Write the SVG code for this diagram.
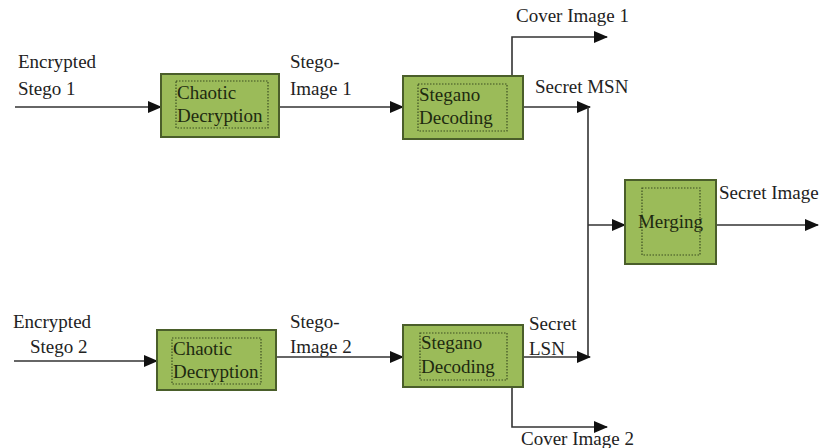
<svg xmlns="http://www.w3.org/2000/svg" width="822" height="448" viewBox="0 0 822 448">
<style>
.box{fill:#9bbb59;stroke:#4a5e2a;stroke-width:2}
.inner{fill:none;stroke:#3d4f22;stroke-width:1.2;stroke-dasharray:1.5 1.5}
.lbl{font-size:19px;fill:#222}
.blbl{font-size:19px;fill:#1e2a10}
.conn path{fill:none;stroke:#333;stroke-width:1.6}
</style>
<defs>
<marker id="arr" markerUnits="userSpaceOnUse" markerWidth="14" markerHeight="12" refX="13" refY="6" orient="auto">
<path d="M0,0 L14,6 L0,12 Z" fill="#111"/>
</marker>
</defs>
<rect width="822" height="448" fill="#fff"/>
<g class="conn" id="connectors">
<path d="M15,107 H161" marker-end="url(#arr)"/>
<path d="M279,107 H403" marker-end="url(#arr)"/>
<path d="M512,76 V37 H607" marker-end="url(#arr)"/>
<path d="M523,107 H590" marker-end="url(#arr)"/>
<path d="M588,107 V357"/>
<path d="M588,225 H625" marker-end="url(#arr)"/>
<path d="M716,225 H818" marker-end="url(#arr)"/>
<path d="M14,361 H157" marker-end="url(#arr)"/>
<path d="M276,357 H403" marker-end="url(#arr)"/>
<path d="M523,357 H590" marker-end="url(#arr)"/>
<path d="M512,387 V427 H607" marker-end="url(#arr)"/>
</g>
<g id="labels" font-family="Liberation Serif, DejaVu Serif, serif">
<text class="lbl" x="18" y="68">Encrypted</text>
<text class="lbl" x="18" y="95">Stego 1</text>
<text class="lbl" x="290" y="68">Stego-</text>
<text class="lbl" x="290" y="95">Image 1</text>
<text class="lbl" x="516" y="22">Cover Image 1</text>
<text class="lbl" x="535" y="93">Secret MSN</text>
<text class="lbl" x="719" y="199">Secret Image</text>
<text class="lbl" x="13" y="328">Encrypted</text>
<text class="lbl" x="30" y="353">Stego 2</text>
<text class="lbl" x="290" y="328">Stego-</text>
<text class="lbl" x="290" y="353">Image 2</text>
<text class="lbl" x="529" y="330">Secret</text>
<text class="lbl" x="529" y="355">LSN</text>
<text class="lbl" x="521" y="445">Cover Image 2</text>
</g>
<g id="chaotic1" font-family="Liberation Serif, DejaVu Serif, serif">
<rect class="box" x="161" y="74" width="118" height="63"/>
<rect class="inner" x="176" y="81" width="92" height="47"/>
<text class="blbl" x="177" y="99">Chaotic</text>
<text class="blbl" x="177" y="122">Decryption</text>
</g>
<g id="stegano1" font-family="Liberation Serif, DejaVu Serif, serif">
<rect class="box" x="403" y="76" width="120" height="63"/>
<rect class="inner" x="418" y="84" width="89" height="47"/>
<text class="blbl" x="419" y="101">Stegano</text>
<text class="blbl" x="419" y="124">Decoding</text>
</g>
<g id="merging" font-family="Liberation Serif, DejaVu Serif, serif">
<rect class="box" x="625" y="180" width="91" height="84"/>
<rect class="inner" x="642" y="188" width="58" height="67"/>
<text class="blbl" x="670.500" y="228" text-anchor="middle" font-size="16">Merging</text>
</g>
<g id="chaotic2" font-family="Liberation Serif, DejaVu Serif, serif">
<rect class="box" x="157" y="330" width="119" height="60"/>
<rect class="inner" x="172" y="338" width="89" height="46"/>
<text class="blbl" x="173" y="355">Chaotic</text>
<text class="blbl" x="173" y="378">Decryption</text>
</g>
<g id="stegano2" font-family="Liberation Serif, DejaVu Serif, serif">
<rect class="box" x="403" y="325" width="120" height="62"/>
<rect class="inner" x="420" y="333" width="87" height="47"/>
<text class="blbl" x="421" y="349">Stegano</text>
<text class="blbl" x="421" y="373">Decoding</text>
</g>
</svg>
